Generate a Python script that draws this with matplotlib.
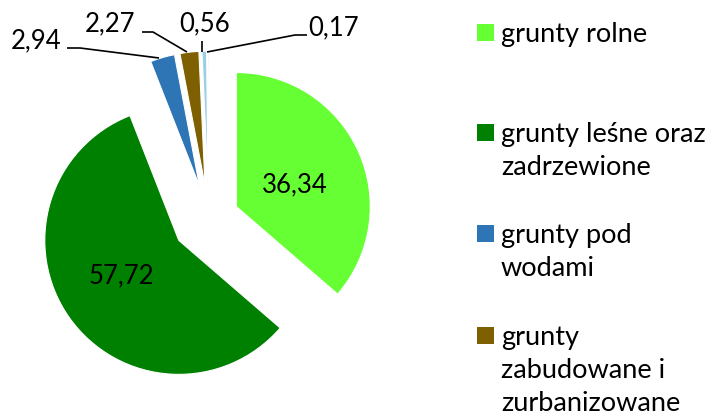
import matplotlib
matplotlib.use("Agg")
import matplotlib.pyplot as plt
from matplotlib.patches import Rectangle

plt.rcParams["font.family"] = ["Lato", "DejaVu Sans"]

# ---------------------------------------------------------------------------
# Data
# ---------------------------------------------------------------------------
values = [36.34, 57.72, 2.94, 2.27, 0.56, 0.17]
value_labels = ["36,34", "57,72", "2,94", "2,27", "0,56", "0,17"]
categories = [
    "grunty rolne",
    "grunty leśne oraz\nzadrzewione",
    "grunty pod\nwodami",
    "grunty\nzabudowane i\nzurbanizowane",
    "nieużytki",
    "tereny różne",
]
colors = ["#66FF33", "#008000", "#2E75B6", "#7F6000", "#9DCFE3", "#F8CBAD"]

# ---------------------------------------------------------------------------
# Figure (axes in pixel units, y up)
# ---------------------------------------------------------------------------
W, H = 708, 417
fig = plt.figure(figsize=(W / 100, H / 100), dpi=100)
ax = fig.add_axes([0, 0, 1, 1])

center = (209, H - 219)
radius = 134
explode = [30, 37, 34, 34, 34, 34]

wedges, _ = ax.pie(
    values, colors=colors, startangle=90, counterclock=False,
    center=center, radius=radius, explode=explode, frame=True,
    wedgeprops=dict(edgecolor="white", linewidth=0.8),
)

ax.set_xlim(0, W)
ax.set_ylim(0, H)
ax.set_aspect("equal")
ax.axis("off")

FS = 18.5      # data labels
FS_LEG = 19.5  # legend

# inside labels
ax.text(295, H - 185, value_labels[0], fontsize=FS, ha="center", va="center")
ax.text(121, H - 276, value_labels[1], fontsize=FS, ha="center", va="center")

# outside labels with leader lines
def leader(pts):
    xs = [p[0] for p in pts]
    ys = [H - p[1] for p in pts]
    ax.plot(xs, ys, color="black", linewidth=1.2, solid_capstyle="butt")

leader([(67, 48), (80, 48), (159, 58)])
ax.text(36, H - 41, value_labels[2], fontsize=FS, ha="center", va="center")

leader([(142, 32), (153, 32), (187, 52)])
ax.text(110, H - 24, value_labels[3], fontsize=FS, ha="center", va="center")

leader([(202, 41), (202, 52)])
ax.text(205, H - 24, value_labels[4], fontsize=FS, ha="center", va="center")

leader([(207, 52), (295, 35), (307, 35)])
ax.text(334, H - 28, value_labels[5], fontsize=FS, ha="center", va="center")

# legend (drawn by hand; only the first four entries fit, as in the original)
leg_base = [42, 142, 243, 345]
line_gap = 33
for y, lab, c in zip(leg_base, categories, colors):
    ax.add_patch(Rectangle((477, H - y + 1), 17, 17, facecolor=c, edgecolor="none"))
    for j, line in enumerate(lab.split("\n")):
        ax.text(501, H - y - j * line_gap, line, fontsize=FS_LEG,
                ha="left", va="baseline")

fig.savefig("out.png", dpi=100)
